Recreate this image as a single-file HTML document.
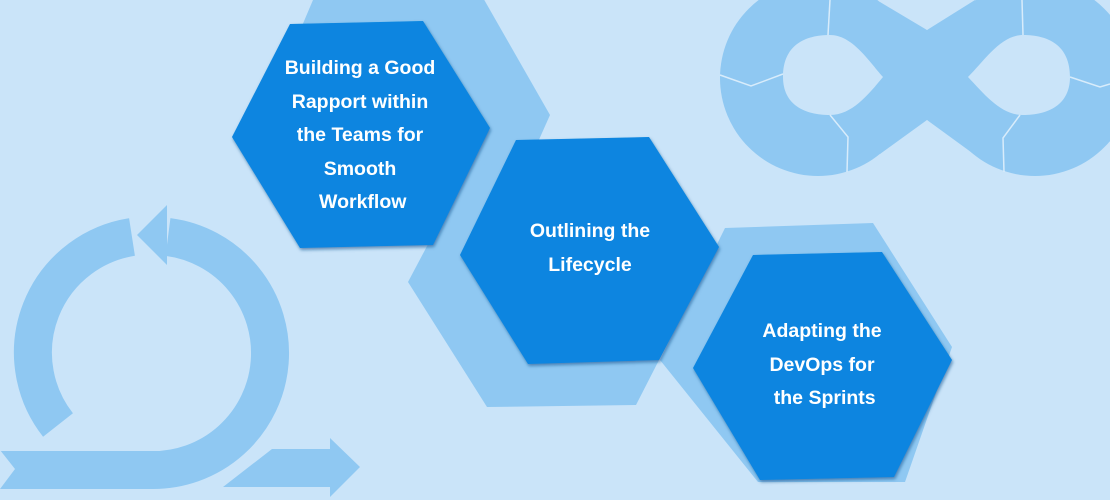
<!DOCTYPE html>
<html><head><meta charset="utf-8"><style>
html,body{margin:0;padding:0;}
body{width:1110px;height:500px;overflow:hidden;background:#cae4f9;position:relative;font-family:"Liberation Sans",sans-serif;}
svg{position:absolute;left:0;top:0;}
.t{position:absolute;color:#fff;font-weight:bold;font-size:19.5px;line-height:33.5px;text-align:center;width:240px;}
</style></head><body>
<svg width="1110" height="500" viewBox="0 0 1110 500">
<defs><filter id="sh" x="-10%" y="-10%" width="130%" height="130%"><feDropShadow dx="1" dy="2" stdDeviation="1.5" flood-color="#0a4f8a" flood-opacity="0.6"/></filter></defs>
<g fill="#8fc8f2">
<circle cx="818" cy="78" r="98"/>
<circle cx="1035" cy="78" r="98"/>
<polygon points="880,2 927,30 975,0 975,155 927,120 880,154"/>
</g>
<g fill="#cae4f9">
<polygon points="850,-40 927,30 1005,-40"/>
<polygon points="850,200 927,120 1005,200"/>
<path d="M783,77 C783,45 805,35 830,35 C852,35 868,60 883,77 C868,95 852,115 830,115 C805,115 783,105 783,77Z"/>
<path d="M1070,77 C1070,45 1048,35 1023,35 C1001,35 985,60 968,77 C985,95 1001,115 1023,115 C1048,115 1070,105 1070,77Z"/>
</g>
<g stroke="#d8ecfb" stroke-width="1.5" fill="none">
<polyline points="830,0 828,35"/>
<polyline points="720,75 751,86 783,74"/>
<polyline points="830,115 848,137 847,172"/>
<polyline points="1022,0 1023,35"/>
<polyline points="1020,115 1003,138 1004,172"/>
<polyline points="1070,77 1100,87 1110,84"/>
</g>
<g fill="none" stroke="#8fc8f2" stroke-width="38">
<path d="M132,237 A117,117 0 0 0 58,425"/>
<path d="M168,237 A117,117 0 0 1 150,470 L0,470"/>
</g>
<g fill="#8fc8f2">
<polygon points="137,235 167,205 167,265"/>
<polygon points="223,487 272,449 330,449 330,438 360,467 330,497 330,487"/>
</g>
<polygon points="0,450 15,469 0,489" fill="#cae4f9"/>
<g fill="#8fc8f2">
<polygon points="313,0 482,-4 550,115 492,245 330,245 262,120"/>
<polygon points="470,165 630,160 700,280 636,405 487,407 408,282"/>
<polygon points="725,228 873,223 952,347 905,482 758,482 660,360"/>
</g>
<g fill="#0885e0" filter="url(#sh)">
<polygon points="290,24 423,21 490,128 433,245 300,248 232,137"/>
<polygon points="516,140 649,137 719,247 659,360 528,364 460,255"/>
<polygon points="753,255 882,252 952,360 894,477 760,480 693,368"/>
</g>
</svg>
<div class="t" style="left:240px;top:52px;">Building a Good<br>Rapport within<br>the Teams for<br>Smooth<br>&nbsp;Workflow</div>
<div class="t" style="left:470px;top:215px;">Outlining the<br>Lifecycle</div>
<div class="t" style="left:702px;top:315px;">Adapting the<br>DevOps for<br>&nbsp;the Sprints</div>
</body></html>
